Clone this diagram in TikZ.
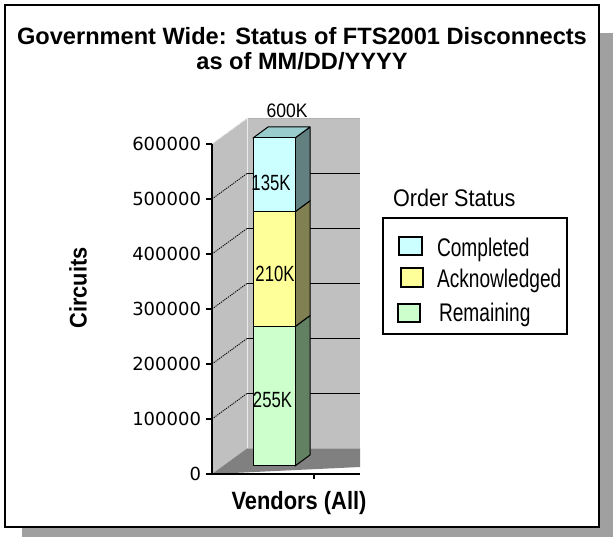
\documentclass[tikz,border=0pt]{standalone}
\usepackage{fontspec}
\setmainfont{Liberation Sans}
\newfontfamily\dejavu{DejaVu Sans}
\definecolor{shadowgray}{HTML}{A0A0A0}
\definecolor{wallgray}{HTML}{C0C0C0}
\definecolor{floorgray}{HTML}{808080}
\definecolor{cyanF}{HTML}{CCFFFF}
\definecolor{yellowF}{HTML}{FFFF99}
\definecolor{greenF}{HTML}{CCFFCC}
\definecolor{cyanS}{HTML}{628080}
\definecolor{yellowS}{HTML}{808052}
\definecolor{greenS}{HTML}{628062}
\definecolor{topF}{HTML}{99CCCC}
\tikzset{
  txt/.style={inner sep=0pt, outer sep=0pt},
  ylab/.style={txt, anchor=east, font=\dejavu\fontsize{18}{20}\selectfont},
  barlab/.style={txt, anchor=center, font=\fontsize{22}{24}\selectfont},
  legtxt/.style={txt, anchor=base west, font=\fontsize{25.5}{28}\selectfont},
  legbox/.style={draw=black, line width=1.5pt},
  grid/.style={black, line width=1pt},
  wallgrid/.style={black, line width=0.9pt, dash pattern=on 1.2pt off 1pt},
  baredge/.style={draw=black, line width=1pt, line join=round},
}
\begin{document}
\begin{tikzpicture}[x=1pt,y=-1pt]
\useasboundingbox (0,0) rectangle (614,537);
\fill[white] (0,0) rectangle (614,537);
% frame with shadow
\fill[shadowgray] (22,33) rectangle (613,537);
\draw[fill=white, line width=2pt] (5,5) rectangle (599,527);
% title
\node[txt, anchor=base, font=\bfseries\fontsize{23.6}{28}\selectfont] (t1) at (302,45) {Government Wide: Status of FTS2001 Disconnects};
\node[txt, anchor=base, font=\bfseries\fontsize{23.6}{28}\selectfont] (t2) at (302,70) {as of MM/DD/YYYY};
% walls
\fill[wallgray] (212,144) -- (247,118.5) -- (247,448.5) -- (212,474) -- cycle;
\fill[wallgray] (247,118.5) rectangle (360,448.5);
\fill[floorgray] (212,474) -- (247,448.5) -- (360,448.5) -- (360,467) -- cycle;
\draw[gray!60, line width=0.8pt] (247,118.5) -- (360,118.5);
\draw[white!85!gray, line width=0.8pt] (247,118.5) -- (247,448.5);
\draw[white!80!gray, line width=0.9pt, dash pattern=on 1.2pt off 1pt] (212,144) -- (247,118.5);
% gridlines
\foreach \f/\b in {419/393.5, 364/338.5, 309/283.5, 254/228.5, 199/173.5}{
  \draw[wallgrid] (212,\f) -- (247,\b);
  \draw[grid] (247,\b) -- (360,\b);
}
% axes
\draw[black, line width=1.2pt] (212,144) -- (212,474) -- (360,474);
\foreach \f in {144,199,254,309,364,419,474}{
  \draw[black, line width=1.2pt] (206,\f) -- (212,\f);
}
\draw[black, line width=1.2pt] (314,474) -- (314,479);
% y labels
\node[ylab] (y6) at (201,144) {600000};
\node[ylab] (y5) at (201,199) {500000};
\node[ylab] (y4) at (201,254) {400000};
\node[ylab] (y3) at (201,309) {300000};
\node[ylab] (y2) at (201,364) {200000};
\node[ylab] (y1) at (201,419) {100000};
\node[ylab] (y0) at (201,474) {0};
% bar side faces
\filldraw[baredge, fill=greenS] (295,466) -- (310,455) -- (310,315.6) -- (295,326.6) -- cycle;
\filldraw[baredge, fill=yellowS] (295,326.6) -- (310,315.6) -- (310,200.8) -- (295,211.8) -- cycle;
\filldraw[baredge, fill=cyanS] (295,211.8) -- (310,200.8) -- (310,127) -- (295,138) -- cycle;
\filldraw[baredge, fill=topF] (253,138) -- (268,127) -- (310,127) -- (295,138) -- cycle;
% bar front faces
\filldraw[baredge, fill=greenF] (253,326.6) rectangle (295,466);
\filldraw[baredge, fill=yellowF] (253,211.8) rectangle (295,326.6);
\filldraw[baredge, fill=cyanF] (253,138) rectangle (295,211.8);
% bar labels
\node[barlab] (l135) at (271,183) {\scalebox{0.76}[1]{135K}};
\node[barlab] (l210) at (275,274) {\scalebox{0.76}[1]{210K}};
\node[barlab] (l255) at (272.5,400) {\scalebox{0.76}[1]{255K}};
\node[barlab, font=\fontsize{19.5}{22}\selectfont] (l600) at (287,110.5) {\scalebox{0.9}[1]{600K}};
% axis titles
\node[txt, anchor=center, rotate=90, font=\bfseries\fontsize{24}{28}\selectfont] (ytitle) at (78,288) {\scalebox{0.91}[1]{Circuits}};
\node[txt, anchor=base, font=\bfseries\fontsize{25}{28}\selectfont] (xtitle) at (299,510) {\scalebox{0.875}[1]{Vendors (All)}};
% legend
\node[txt, anchor=base west, font=\fontsize{24}{28}\selectfont] (lt) at (393,207) {\scalebox{0.9}[1]{Order Status}};
\draw[legbox, fill=white] (383,218) rectangle (567,334);
\draw[legbox, fill=cyanF] (399,237) rectangle (422,255);
\draw[legbox, fill=yellowF] (401,268) rectangle (423,287);
\draw[legbox, fill=greenF] (398,304) rectangle (420,322);
\node[legtxt] (lc) at (437,257) {\scalebox{0.75}[1]{Completed}};
\node[legtxt] (la) at (437,288) {\scalebox{0.75}[1]{Acknowledged}};
\node[legtxt] (lr) at (439,322) {\scalebox{0.75}[1]{Remaining}};
\end{tikzpicture}
\end{document}
